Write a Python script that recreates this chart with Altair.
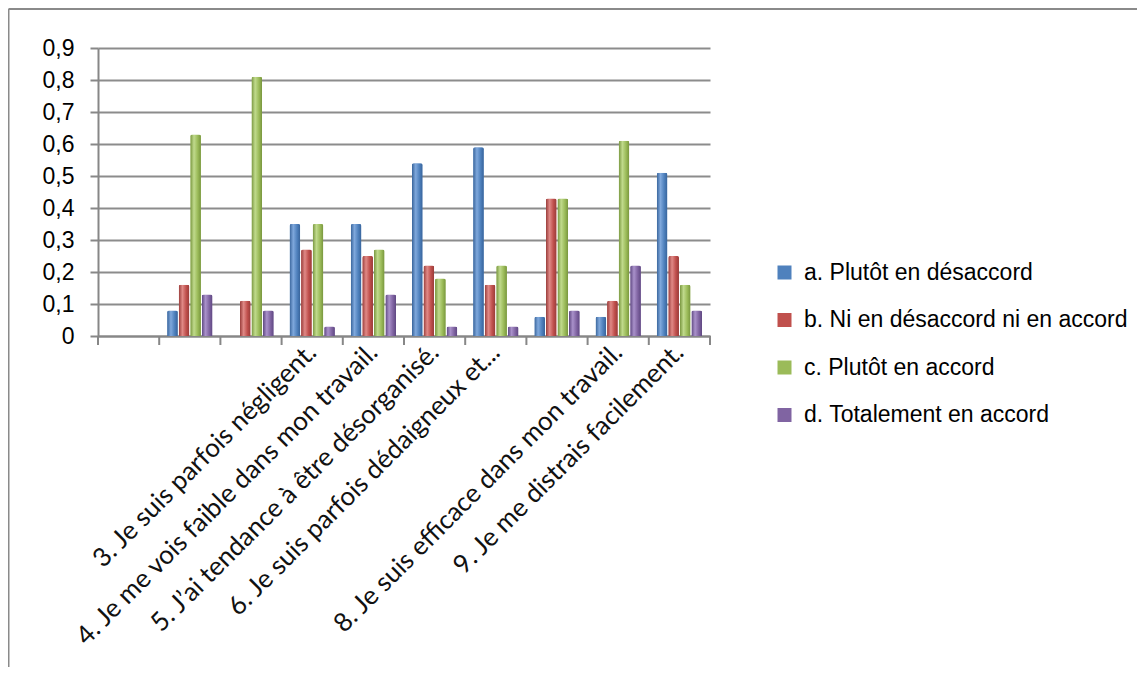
import json
import altair as alt
import pandas as pd

# ---------------- data ----------------
categories = [
    "",
    "1.",
    "2.",
    "3. Je suis parfois négligent.",
    "4. Je me vois faible dans mon travail.",
    "5. J’ai tendance à être désorganisé.",
    "6. Je suis parfois dédaigneux et...",
    "7.",
    "8. Je suis efficace dans mon travail.",
    "9. Je me distrais facilement.",
]
hidden_labels = ["", "1.", "2.", "7."]
items = categories[1:]

series = [
    "a. Plutôt en désaccord",
    "b. Ni en désaccord ni en accord",
    "c. Plutôt en accord",
    "d. Totalement en accord",
]
vals_a = [0.08, 0.00, 0.35, 0.35, 0.54, 0.59, 0.06, 0.06, 0.51]
vals_b = [0.16, 0.11, 0.27, 0.25, 0.22, 0.16, 0.43, 0.11, 0.25]
vals_c = [0.63, 0.81, 0.35, 0.27, 0.18, 0.22, 0.43, 0.61, 0.16]
vals_d = [0.13, 0.08, 0.03, 0.13, 0.03, 0.03, 0.08, 0.22, 0.08]
yticks = [0, 0.1, 0.2, 0.3, 0.4, 0.5, 0.6, 0.7, 0.8, 0.9]

colors = ["#4F81BD", "#C0504D", "#9BBB59", "#8064A2"]
light = ["#7FA8DC", "#E08986", "#C0DA8C", "#A991CA"]
dark = ["#37639A", "#983B39", "#77953D", "#5E4781"]

rows = []
for s, vals in zip(series, [vals_a, vals_b, vals_c, vals_d]):
    for it, v in zip(items, vals):
        rows.append({"item": it, "series": s, "value": v})
df = pd.DataFrame(rows)
df_cats = pd.DataFrame({"item": categories})
df_last = pd.DataFrame({"item": categories[-1:]})
df_one = pd.DataFrame({"k": [0]})

# ---------------- layout ----------------
W, H = 612, 288
PAD_L, PAD_T, PAD_R, PAD_B = 90, 40, 427, 331
P_IN, P_OUT = 0.26, 0.13
STEP = W / len(categories)
GRAY = "#878787"

xscale = alt.Scale(domain=categories, paddingInner=P_IN, paddingOuter=P_OUT)
yscale = alt.Scale(domain=[0, 0.9], nice=False)
offscale = alt.Scale(domain=series, paddingInner=0.08)

label_expr = (
    "indexof(" + json.dumps(hidden_labels, ensure_ascii=False)
    + ", datum.label) >= 0 ? '' : datum.label"
)

x_axis = alt.Axis(
    title=None, labelAngle=-45, labelAlign="right", labelBaseline="middle",
    labelFont="Lato", labelFontSize=26, labelColor="#111111", labelPadding=12,
    labelLimit=700, labelOverlap=False, labelBound=False, labelFlush=False,
    ticks=False, domainColor=GRAY, domainWidth=2, labelExpr=label_expr,
)
y_axis = alt.Axis(
    title=None, values=yticks,
    labelExpr="replace(format(datum.value, '.1~f'), '.', ',')",
    labelFont="Liberation Sans", labelFontSize=23, labelColor="black",
    labelPadding=16, tickSize=8, tickColor=GRAY, tickWidth=2,
    domainColor=GRAY, domainWidth=2,
    grid=True, gridColor="#8c8c8c", gridWidth=2,
)

X = dict(field="item", type="nominal", scale=xscale, sort=categories, axis=x_axis)
Y = dict(field="value", type="quantitative", scale=yscale, axis=y_axis)

base = alt.Chart(df).mark_bar(cornerRadiusTopLeft=2, cornerRadiusTopRight=2).encode(
    x=alt.X(**X),
    xOffset=alt.XOffset("series:N", scale=offscale, sort=series),
    y=alt.Y(**Y),
    color=alt.Color(
        "series:N",
        scale=alt.Scale(domain=series, range=colors),
        sort=series,
        legend=alt.Legend(
            title=None, orient="none", legendX=675, legendY=213, padding=0,
            symbolType="square", symbolSize=196, symbolStrokeWidth=0,
            labelFont="Liberation Sans", labelFontSize=23, labelColor="black",
            labelOffset=8, rowPadding=23.5, labelLimit=600,
        ),
    ),
)

overlays = []
for s, c, lt, dk in zip(series, colors, light, dark):
    grad = alt.LinearGradient(
        gradient="linear", x1=0, x2=1, y1=0, y2=0,
        stops=[
            alt.GradientStop(offset=0, color=dk),
            alt.GradientStop(offset=0.35, color=lt),
            alt.GradientStop(offset=0.7, color=c),
            alt.GradientStop(offset=1, color=dk),
        ],
    )
    ov = alt.Chart(df).transform_filter(alt.datum.series == s).mark_bar(
        color=grad, cornerRadiusTopLeft=2, cornerRadiusTopRight=2
    ).encode(
        x=alt.X(**X),
        xOffset=alt.XOffset("series:N", scale=offscale, sort=series),
        y=alt.Y(**Y),
    )
    overlays.append(ov)

ticks = alt.Chart(df_cats).mark_rule(
    color=GRAY, strokeWidth=2, xOffset=-STEP * P_OUT
).encode(
    x=alt.X(bandPosition=0, **X),
    y=alt.value(H),
    y2=alt.value(H + 9),
)
tick_last = alt.Chart(df_last).mark_rule(
    color=GRAY, strokeWidth=2, xOffset=STEP * P_OUT
).encode(
    x=alt.X(bandPosition=1, **X),
    y=alt.value(H),
    y2=alt.value(H + 9),
)

frame_top = alt.Chart(df_one).mark_rule(color="#8a8a8a", strokeWidth=2).encode(
    x=alt.value(-PAD_L + 0.5), x2=alt.value(W + PAD_R), y=alt.value(-PAD_T + 1)
)
frame_left = alt.Chart(df_one).mark_rule(color="#8a8a8a", strokeWidth=2).encode(
    x=alt.value(-PAD_L + 0.5), y=alt.value(-PAD_T + 1), y2=alt.value(H + PAD_B)
)

chart = alt.layer(
    base, *overlays, ticks, tick_last, frame_top, frame_left
).properties(
    width=W, height=H,
    padding={"left": PAD_L, "top": PAD_T, "right": PAD_R, "bottom": PAD_B},
    autosize=alt.AutoSizeParams(type="none"),
    background="white",
).configure_view(stroke=None)

chart.save("out.html", embed_options={"renderer": "svg", "actions": False})
